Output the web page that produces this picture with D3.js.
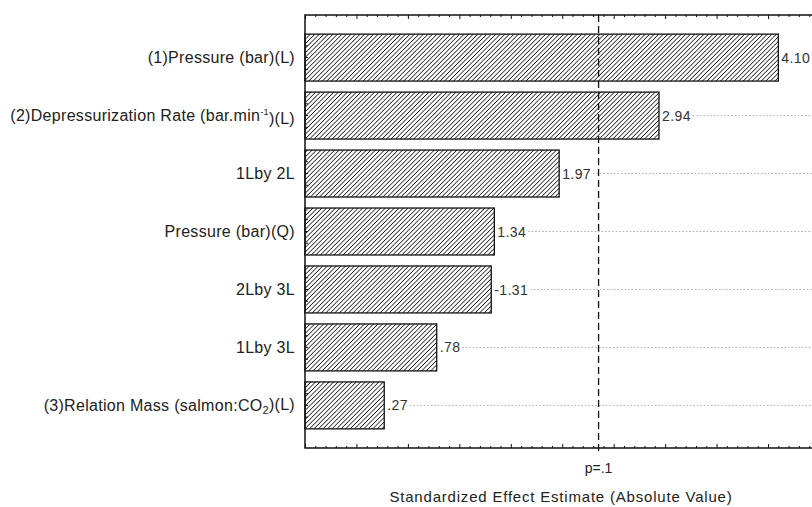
<!DOCTYPE html>
<html>
<head>
<meta charset="utf-8">
<script src="https://cdn.jsdelivr.net/npm/d3@7"></script>
<style>
  body { margin: 0; background: #fff; }
  svg { display: block; font-family: "Liberation Sans", Arial, sans-serif; }
</style>
</head>
<body>
<div id="chart"></div>
<script>
// effects, sorted as in the Pareto chart
const categories = [
    '(1)Pressure (bar)(L)',
    '(2)Depressurization Rate (bar.min-1)(L)',
    '1Lby 2L',
    'Pressure (bar)(Q)',
    '2Lby 3L',
    '1Lby 3L',
    '(3)Relation Mass (salmon:CO2)(L)'
];
const effects = [4.10, 2.94, 1.97, 1.34, -1.31, 0.78, 0.27];
const valueLabels = ['4.10', '2.94', '1.97', '1.34', '-1.31', '.78', '.27'];
const pCritical = 2.353;   // t value for p = .1
const pLabel = 'p=.1';
const xTitle = 'Standardized Effect Estimate (Absolute Value)';

const width = 812, height = 507;
const plotLeft = 305, plotTop = 15, plotBottom = 448;

const svg = d3.select('#chart').append('svg')
    .attr('width', width)
    .attr('height', height);

// hatch pattern
const defs = svg.append('defs');
const pat = defs.append('pattern')
    .attr('id', 'hatch')
    .attr('patternUnits', 'userSpaceOnUse')
    .attr('width', 3.2).attr('height', 3.2)
    .attr('patternTransform', 'rotate(45)');
pat.append('rect').attr('width', 3.2).attr('height', 3.2).attr('fill', '#fff');
pat.append('line')
    .attr('x1', 0).attr('y1', 0).attr('x2', 0).attr('y2', 3.2)
    .attr('stroke', '#111').attr('stroke-width', 1.5);

const x = d3.scaleLinear().domain([-0.5, 4.5]).range([plotLeft, plotLeft + 5 * 102.9]);
const y = d3.scaleBand().domain(categories).range([plotTop, plotBottom])
    .paddingInner(0.19).paddingOuter(0.33);

const x0 = x.domain()[0];
const xRight = x.range()[1];

const guides = svg.append('g');

// bars
svg.selectAll('rect.bar')
    .data(categories)
    .join('rect')
    .attr('class', 'bar')
    .attr('x', x(x0))
    .attr('y', d => y(d))
    .attr('width', (d, i) => x(Math.abs(effects[i])) - x(x0))
    .attr('height', y.bandwidth())
    .attr('fill', 'url(#hatch)')
    .attr('stroke', '#111')
    .attr('stroke-width', 1.3);

// value labels + dotted guide lines after them
categories.forEach((c, i) => {
    const cy = y(c) + y.bandwidth() / 2;
    const lx = x(Math.abs(effects[i])) + 3;
    const t = svg.append('text')
        .attr('x', lx)
        .attr('y', cy)
        .attr('dy', '0.36em')
        .attr('font-size', '14px')
        .attr('letter-spacing', '0.4px')
        .attr('fill', '#333')
        .text(valueLabels[i]);
    const w = t.node().getComputedTextLength();
    guides.append('line')
        .attr('x1', lx + w + 2).attr('x2', xRight)
        .attr('y1', cy).attr('y2', cy)
        .attr('stroke', '#aaa').attr('stroke-width', 1)
        .attr('stroke-dasharray', '1.5,2');
});

// frame
svg.append('path')
    .attr('d', `M${xRight},${plotTop}H${plotLeft}V${plotBottom}H${xRight}`)
    .attr('fill', 'none').attr('stroke', '#111').attr('stroke-width', 1.5);

// x axes (ticks inside)
const major = d3.range(-0.5, 4.51, 0.5);
const minor = d3.range(-0.5, 4.51, 0.1).filter(v => Math.abs(Math.round(v * 2) - v * 2) > 1e-6);
const topAxis = d3.axisTop(x).tickValues(major).tickSize(-4).tickFormat('');
const botAxis = d3.axisBottom(x).tickValues(major).tickSize(-4).tickFormat('');
const topMinor = d3.axisTop(x).tickValues(minor).tickSize(-2).tickFormat('');
const botMinor = d3.axisBottom(x).tickValues(minor).tickSize(-2).tickFormat('');
[[topAxis, plotTop], [topMinor, plotTop], [botAxis, plotBottom], [botMinor, plotBottom]].forEach(([ax, yy]) => {
    const g = svg.append('g').attr('transform', `translate(0,${yy})`).call(ax);
    g.select('.domain').remove();
    g.selectAll('line').attr('stroke', '#111');
});

// y axis: category labels and inner ticks
const yAxis = d3.axisLeft(y).tickSize(0).tickPadding(10);
const gy = svg.append('g').attr('transform', `translate(${plotLeft},0)`).call(yAxis);
gy.select('.domain').remove();
gy.selectAll('text')
    .attr('font-size', '16px')
    .attr('letter-spacing', '0.3px')
    .attr('fill', '#222')
    .attr('font-family', '"Liberation Sans", Arial, sans-serif')
    .each(function(d) {
        const t = d3.select(this);
        if (d.indexOf('min-1') >= 0) {
            t.text('');
            t.append('tspan').text('(2)Depressurization Rate (bar.min');
            t.append('tspan').attr('font-size', '9px').attr('dy', '-0.6em').text('-1');
            t.append('tspan').attr('dy', '0.55em').text(')(L)');
        } else if (d.indexOf('CO2') >= 0) {
            t.text('');
            t.append('tspan').text('(3)Relation Mass (salmon:CO');
            t.append('tspan').attr('font-size', '11px').attr('dy', '0.35em').text('2');
            t.append('tspan').attr('dy', '-0.25em').text(')(L)');
        }
    });
const yTicks = [];
categories.forEach(c => {
    const s = y(c);
    [0.25, 0.5, 0.75].forEach(f => yTicks.push(s + y.bandwidth() * f));
});
svg.selectAll('line.ytick')
    .data(yTicks)
    .join('line')
    .attr('class', 'ytick')
    .attr('x1', plotLeft).attr('x2', plotLeft + 3)
    .attr('y1', d => d).attr('y2', d => d)
    .attr('stroke', '#111');

// critical value line
svg.append('line')
    .attr('x1', x(pCritical)).attr('x2', x(pCritical))
    .attr('y1', plotTop).attr('y2', plotBottom + 4)
    .attr('stroke', '#111').attr('stroke-width', 1.3)
    .attr('stroke-dasharray', '7,4');
svg.append('text')
    .attr('x', x(pCritical)).attr('y', 473)
    .attr('text-anchor', 'middle')
    .attr('font-size', '14px').attr('fill', '#222')
    .text(pLabel);

// axis title
svg.append('text')
    .attr('x', 561).attr('y', 502)
    .attr('text-anchor', 'middle')
    .attr('font-size', '15px').attr('fill', '#222')
    .attr('letter-spacing', '0.8px')
    .text(xTitle);
</script>
</body>
</html>
